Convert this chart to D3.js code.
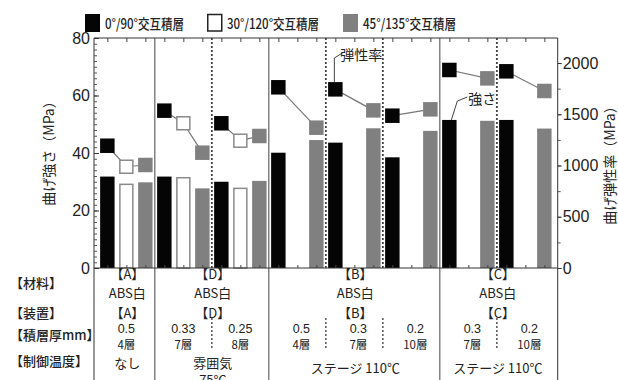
<!DOCTYPE html>
<html>
<head>
<meta charset="utf-8">
<script src="https://cdn.jsdelivr.net/npm/d3@7/dist/d3.min.js"></script>
<style>
  html, body { margin: 0; padding: 0; background: #fff; }
  svg { display: block; }
  text { fill: #222; }
</style>
</head>
<body>
<svg id="chart" width="618" height="380"></svg>
<script>
// Sub-groups along the x axis (material / device / layer thickness)
const subgroups = ["A-0.5", "D-0.33", "D-0.25", "B-0.5", "B-0.3", "B-0.2", "C-0.3", "C-0.2"];
// Stacking orientations (series)
const seriesKeys = ["0/90", "30/120", "45/135"];
const legendLabels = ["0°/90°交互積層", "30°/120°交互積層", "45°/135°交互積層"];

// Flexural strength (MPa), left axis — bars
const strength0 = [31.8, 31.8, 30.0, 40.1, 43.6, 38.5, 51.5, 51.5];
const strength30 = [29.1, 31.4, 27.7, null, null, null, null, null];
const strength45 = [29.8, 27.7, 30.3, 44.5, 48.6, 47.7, 51.2, 48.5];

// Flexural modulus (MPa), right axis — square markers
const modulus0 = [1193, 1535, 1412, 1763, 1743, 1486, 1932, 1919];
const modulus30 = [988, 1412, 1242, null, null, null, null, null];
const modulus45 = [1005, 1125, 1288, 1369, 1538, 1548, 1850, 1727];

// Axis ticks
const leftTicks = [0, 20, 40, 60, 80];
const rightTicks = [0, 500, 1000, 1500, 2000];

// Table below the chart
const rowLabels = ["【材料】", "【装置】", "【積層厚mm】", "【制御温度】"];
const groupSpans = [[0, 0], [1, 2], [3, 5], [6, 7]];
const materialCodes = ["【A】", "【D】", "【B】", "【C】"];
const materialNames = ["ABS白", "ABS白", "ABS白", "ABS白"];
const devices = ["【A】", "【D】", "【B】", "【C】"];
const thickness = ["0.5", "0.33", "0.25", "0.5", "0.3", "0.2", "0.3", "0.2"];
const layers = ["4層", "7層", "8層", "4層", "7層", "10層", "7層", "10層"];
const temperatures = [["なし"], ["雰囲気", "75℃"], ["ステージ 110℃"], ["ステージ 110℃"]];

const strengthSeries = [strength0, strength30, strength45];
const modulusSeries = [modulus0, modulus30, modulus45];

const colors = { "0/90": "#050505", "30/120": "#ffffff", "45/135": "#808080" };
const strokes = { "0/90": "#050505", "30/120": "#8a8a8a", "45/135": "#808080" };

const JP = "'Noto Sans CJK JP', 'Noto Sans', sans-serif";
const NUM = "'Liberation Sans', Arial, sans-serif";

const svg = d3.select("#chart");
const L = 94, R = 557.7, T = 38, B = 268, BOTTOM = 380;

const xg = d3.scaleBand().domain(d3.range(subgroups.length)).range([L, R])
  .paddingInner(0).paddingOuter(0.0675);
const xs = d3.scaleBand().domain(seriesKeys).range([0, xg.bandwidth()])
  .paddingInner(0.24).paddingOuter(0.12);
const yL = d3.scaleLinear().domain([0, 80]).range([B, T]);
const yR = d3.scaleLinear().domain([0, 2244]).range([B, T]);

const cx = (g, k) => xg(g) + xs(k) + xs.bandwidth() / 2;
const slotScale = d3.scaleLinear().domain([0, 23]).range([cx(0, seriesKeys[0]), cx(7, seriesKeys[2])]);

// ---- bars (strength)
const barData = [];
strengthSeries.forEach((arr, si) => arr.forEach((v, g) => {
  if (v != null) barData.push({ g, k: seriesKeys[si], v });
}));
svg.append("g").selectAll("rect").data(barData).join("rect")
  .attr("x", d => xg(d.g) + xs(d.k) + (d.k === "30/120" ? 0.75 : 0))
  .attr("y", d => yL(d.v))
  .attr("width", d => xs.bandwidth() - (d.k === "30/120" ? 1.5 : 0))
  .attr("height", d => yL(0) - yL(d.v))
  .attr("fill", d => colors[d.k])
  .attr("stroke", d => d.k === "30/120" ? strokes[d.k] : "none")
  .attr("stroke-width", 1.5);

// ---- dividers inside the plot
const groupStarts = groupSpans.map(s => s[0]).slice(1);
const innerStarts = [];
groupSpans.forEach(([a, b]) => { for (let i = a + 1; i <= b; i++) innerStarts.push(i); });

svg.append("g").selectAll("line").data(groupStarts).join("line")
  .attr("x1", d => xg(d)).attr("x2", d => xg(d))
  .attr("y1", T).attr("y2", BOTTOM)
  .attr("stroke", "#444").attr("stroke-width", 1);

svg.append("g").selectAll("line").data(innerStarts).join("line")
  .attr("x1", d => xg(d)).attr("x2", d => xg(d))
  .attr("y1", T).attr("y2", B)
  .attr("stroke", "#444").attr("stroke-width", 1.8).attr("stroke-dasharray", "2,2");

// ---- modulus connector lines and markers
subgroups.forEach((_, g) => {
  const pts = [];
  modulusSeries.forEach((arr, si) => {
    if (arr[g] != null) pts.push([cx(g, seriesKeys[si]), yR(arr[g])]);
  });
  svg.append("path").attr("d", d3.line()(pts))
    .attr("fill", "none").attr("stroke", "#777").attr("stroke-width", 1.2);
});
const markData = [];
modulusSeries.forEach((arr, si) => arr.forEach((v, g) => {
  if (v != null) markData.push({ g, k: seriesKeys[si], v });
}));
const MS = 14.5;
svg.append("g").selectAll("rect").data(markData).join("rect")
  .attr("x", d => cx(d.g, d.k) - MS / 2 + (d.k === "30/120" ? 0.75 : 0))
  .attr("y", d => yR(d.v) - MS / 2 + (d.k === "30/120" ? 0.75 : 0))
  .attr("width", d => MS - (d.k === "30/120" ? 1.5 : 0))
  .attr("height", d => MS - (d.k === "30/120" ? 1.5 : 0))
  .attr("fill", d => colors[d.k])
  .attr("stroke", d => d.k === "30/120" ? strokes[d.k] : "none")
  .attr("stroke-width", 1.5);

// ---- frame
svg.append("line").attr("x1", L).attr("x2", R).attr("y1", T).attr("y2", T).attr("stroke", "#333");
svg.append("line").attr("x1", L).attr("x2", R).attr("y1", B).attr("y2", B).attr("stroke", "#333");
svg.append("line").attr("x1", L).attr("x2", L).attr("y1", T).attr("y2", BOTTOM).attr("stroke", "#333");
svg.append("line").attr("x1", R).attr("x2", R).attr("y1", T).attr("y2", BOTTOM).attr("stroke", "#333");

// top and bottom slot ticks
svg.append("g").attr("transform", `translate(0,${T})`)
  .call(d3.axisBottom(slotScale).tickValues(d3.range(24)).tickSize(4).tickFormat(""))
  .call(g => g.select(".domain").remove())
  .selectAll("line").attr("stroke", "#444");
svg.append("g").attr("transform", `translate(0,${B})`)
  .call(d3.axisTop(slotScale).tickValues(d3.range(24)).tickSize(3).tickFormat(""))
  .call(g => g.select(".domain").remove())
  .selectAll("line").attr("stroke", "#444");

// ---- left axis (ticks inside)
svg.append("g").attr("transform", `translate(${L},0)`)
  .call(d3.axisLeft(yL).tickValues(d3.range(0, 81, 2)).tickSize(-3).tickFormat(""))
  .call(g => g.select(".domain").remove())
  .selectAll("line").attr("stroke", "#555");
svg.append("g").attr("transform", `translate(${L},0)`)
  .call(d3.axisLeft(yL).tickValues(leftTicks).tickSize(-5).tickPadding(4).tickSizeOuter(0))
  .call(g => g.select(".domain").remove())
  .call(g => g.selectAll("line").attr("stroke", "#333"))
  .call(g => g.selectAll("text").attr("font-family", NUM).attr("font-size", 16).attr("fill", "#222"));

// ---- right axis (ticks outside)
svg.append("g").attr("transform", `translate(${R},0)`)
  .call(d3.axisRight(yR).tickValues(d3.range(0, 2001, 250)).tickSize(3).tickFormat(""))
  .call(g => g.select(".domain").remove())
  .selectAll("line").attr("stroke", "#555");
svg.append("g").attr("transform", `translate(${R},0)`)
  .call(d3.axisRight(yR).tickValues(rightTicks).tickSize(4).tickPadding(1).tickSizeOuter(0)
    .tickFormat(d3.format("d")))
  .call(g => g.select(".domain").remove())
  .call(g => g.selectAll("line").attr("stroke", "#333"))
  .call(g => g.selectAll("text").attr("font-family", NUM).attr("font-size", 16).attr("fill", "#222"));

// axis titles
svg.append("text").attr("transform", "translate(54,150) rotate(-90)")
  .attr("text-anchor", "middle").attr("font-family", JP).attr("font-size", 14)
  .text("曲げ強さ（MPa）");
svg.append("text").attr("transform", "translate(615,162) rotate(-90)")
  .attr("text-anchor", "middle").attr("font-family", JP).attr("font-size", 14)
  .text("曲げ弾性率（MPa）");

// ---- legend
const legendX = [85, 207, 343];
const legendWidths = [79, 92, 93];
seriesKeys.forEach((k, i) => {
  const g = svg.append("g").attr("transform", `translate(${legendX[i]},0)`);
  g.append("rect").attr("x", k === "30/120" ? 0.75 : 0).attr("y", k === "30/120" ? 14.5 : 14)
    .attr("width", k === "30/120" ? 14 : 15).attr("height", k === "30/120" ? 16.5 : 18)
    .attr("fill", colors[k]).attr("stroke", k === "30/120" ? "#222" : "none").attr("stroke-width", 1.5);
  g.append("text").attr("x", 20).attr("y", 29).attr("font-family", JP).attr("font-size", 14)
    .attr("font-weight", 500)
    .attr("textLength", legendWidths[i]).attr("lengthAdjust", "spacingAndGlyphs")
    .text(legendLabels[i]);
});

// ---- annotations
{
  const mx = cx(4, "0/90"), my = yR(modulus0[4]);
  svg.append("path").attr("d", `M${mx + 7},${53} L${mx - 1},${58} L${mx - 1},${my - MS / 2}`)
    .attr("fill", "none").attr("stroke", "#444").attr("stroke-width", 1);
  svg.append("text").attr("x", mx + 5).attr("y", 60).attr("font-family", JP).attr("font-size", 14)
    .text("弾性率");
  const bx = cx(6, "0/90"), by = yL(strength0[6]);
  svg.append("path").attr("d", `M${bx + 18},${97} L${bx + 8},${101} L${bx + 2},${by}`)
    .attr("fill", "none").attr("stroke", "#444").attr("stroke-width", 1);
  svg.append("text").attr("x", bx + 19).attr("y", 104).attr("font-family", JP).attr("font-size", 14)
    .text("強さ");
}

// ---- table below the axis
const rowY = [283, 313, 335, 361];
svg.append("g").selectAll("text").data(rowLabels).join("text")
  .attr("x", 10).attr("y", (d, i) => rowY[i] + 5)
  .attr("font-family", JP).attr("font-size", 13).attr("font-weight", 500)
  .text(d => d);

const spanCenter = ([a, b]) => (xg(a) + xg(b) + xg.bandwidth()) / 2;
const cell = (x, y, t, font, size) => svg.append("text").attr("x", x).attr("y", y)
  .attr("text-anchor", "middle").attr("font-family", font || JP).attr("font-size", size || 13).text(t);

groupSpans.forEach((span, i) => {
  const c = spanCenter(span) + 1;
  cell(c, 279, materialCodes[i]);
  cell(c, 298, materialNames[i]);
  cell(c, 318, devices[i]);
  const t = temperatures[i];
  if (t.length === 2) {
    cell(c, 368, t[0]);
    cell(c, 385, t[1]);
  } else {
    cell(c, i >= 2 ? 373 : 368, t[0]);
  }
});
// layer thickness and layer count per column
thickness.forEach((t, g) => {
  const c = xg(g) + xg.bandwidth() / 2 + (g >= 3 ? 4 : 0);
  cell(c, 332.5, t, NUM, 12.5);
  cell(c, 349, layers[g], JP, 11.5);
});
svg.append("g").selectAll("line").data(innerStarts).join("line")
  .attr("x1", d => xg(d)).attr("x2", d => xg(d))
  .attr("y1", 318).attr("y2", 350)
  .attr("stroke", "#555").attr("stroke-width", 1.5).attr("stroke-dasharray", "2,2");
</script>
</body>
</html>
